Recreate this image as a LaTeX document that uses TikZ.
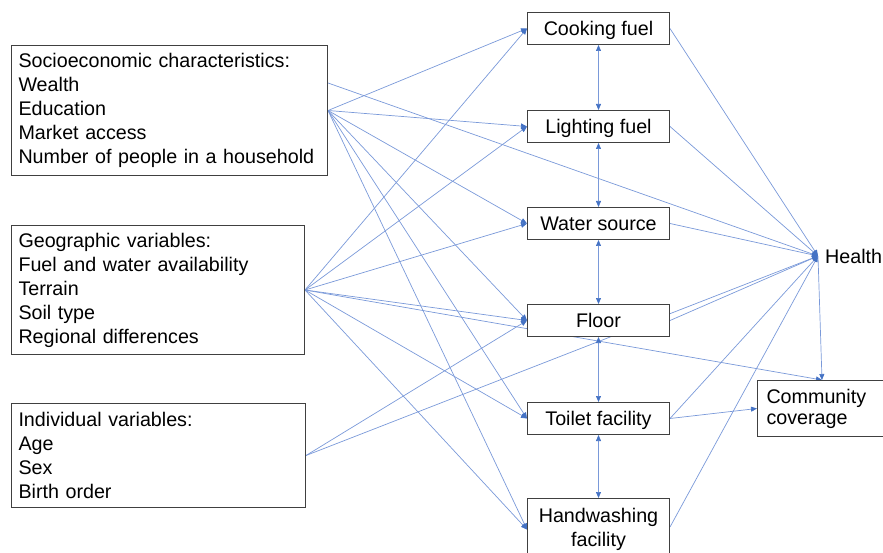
\documentclass[tikz,border=0pt]{standalone}
\usepackage{fontspec}
\setmainfont{Liberation Sans}
\usetikzlibrary{arrows.meta,backgrounds,calc}
\definecolor{edgeblue}{RGB}{68,114,196}
\definecolor{linelight}{RGB}{122,153,217}
\definecolor{boxline}{RGB}{64,64,64}
\begin{document}
\begin{tikzpicture}[x=1pt,y=-1pt,
  font=\fontsize{19.7}{24}\selectfont,
  box/.style={draw=boxline, line width=1pt, fill=white},
  leftbox/.style={box, anchor=north west, align=left, inner xsep=7pt, inner ysep=0pt},
  midbox/.style={box, minimum width=142pt, minimum height=32pt, inner sep=0pt, anchor=north west, align=center},
  oneline/.style={text height=15pt, text depth=1pt},
  tip/.style={Triangle[length=6pt,width=5pt,color=edgeblue]},
  edge/.style={draw=linelight, line width=0.7pt, -{Triangle[length=6pt,width=5pt,color=edgeblue]}},
  biedge/.style={draw=linelight, line width=0.7pt, {Triangle[length=6pt,width=5pt,color=edgeblue]}-{Triangle[length=6pt,width=5pt,color=edgeblue]}},
]
\useasboundingbox (0,0) rectangle (883,553);

% left boxes
\node[leftbox, text width=302pt, minimum height=130pt] (socio) at (11,45)
  {Socioeconomic characteristics:\\Wealth\\Education\\Market access\\Number of people in a household};
\node[leftbox, text width=279pt, minimum height=129pt] (geo) at (11,225)
  {Geographic variables:\\Fuel and water availability\\Terrain\\Soil type\\Regional differences};
\node[leftbox, text width=280pt, minimum height=104pt] (indiv) at (11,403)
  {Individual variables:\\Age\\Sex\\Birth order};

% middle boxes
\node[midbox, oneline] (cook) at (527,12) {Cooking fuel};
\node[midbox, oneline] (light) at (527,110) {Lighting fuel};
\node[midbox, oneline] (water) at (527,207) {Water source};
\node[midbox, oneline] (floor) at (527,304) {Floor};
\node[midbox, oneline] (toilet) at (527,402) {Toilet facility};
\node[midbox, minimum height=62pt] (hand) at (527,498) {Handwashing\\facility};

% right side
\node[anchor=west, inner xsep=7pt, inner ysep=0pt] (health) at (818,256) {Health};
\node[box, anchor=north west, align=left, text width=111pt, inner xsep=9pt, inner ysep=0pt, minimum height=56pt,
      font=\fontsize{19.7}{21}\selectfont] (cc) at (757,380)
  {Community\\coverage};

\begin{scope}[on background layer]
  % socioeconomic
  \foreach \t in {cook,light,water,floor,toilet,hand}
    \draw[edge] (socio.east) -- (\t.west);
  \draw[edge] ($(socio.north east)!0.29!(socio.south east)$) -- (health.west);
  % geographic
  \foreach \t in {cook,light,water,floor,toilet,hand}
    \draw[edge] (geo.east) -- (\t.west);
  \draw[edge] (geo.east) -- (cc.north);
  % individual
  \draw[edge] (indiv.east) -- (floor.west);
  \draw[edge] (indiv.east) -- (health.west);
  % middle to health
  \foreach \s in {cook,light,water,floor,toilet}
    \draw[edge] (\s.east) -- (health.west);
  \draw[edge] ($(hand.north east)+(0,29)$) -- (health.west);
  \draw[edge] (toilet.east) -- (cc.west);
  \draw[edge] (health.west) -- (cc.north);
  % between middle boxes
  \draw[biedge] (cook.south) -- (light.north);
  \draw[biedge] (light.south) -- (water.north);
  \draw[biedge] (water.south) -- (floor.north);
  \draw[biedge] (floor.south) -- (toilet.north);
  \draw[biedge] (toilet.south) -- (hand.north);
\end{scope}
\end{tikzpicture}
\end{document}
